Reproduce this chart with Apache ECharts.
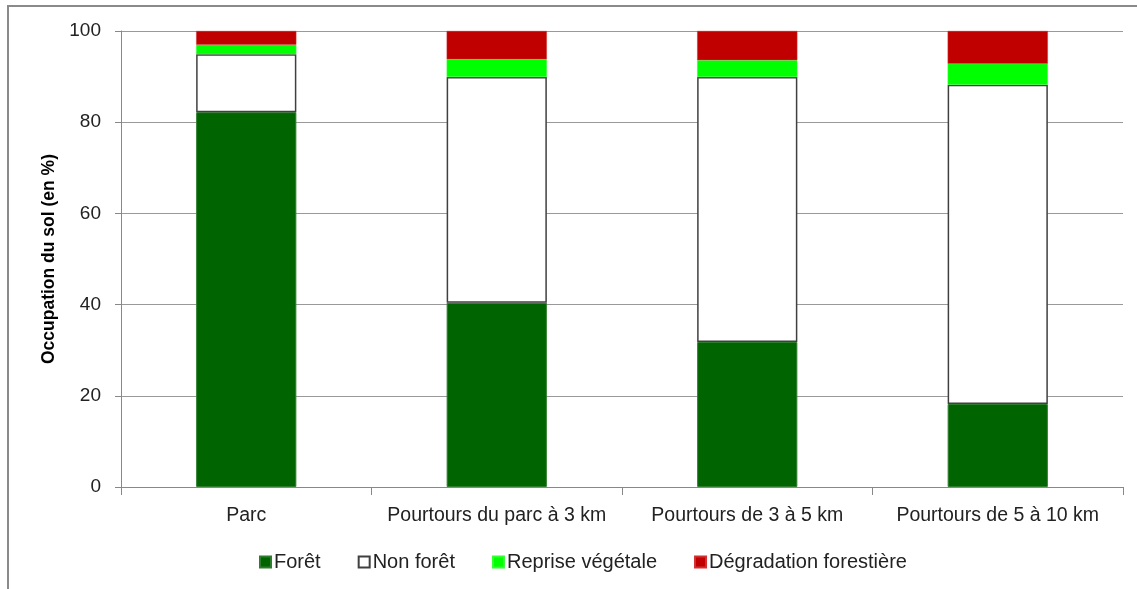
<!DOCTYPE html>
<html><head><meta charset="utf-8">
<script src="https://cdn.jsdelivr.net/npm/echarts@6/dist/echarts.min.js"></script>
<style>html,body{margin:0;padding:0;background:#fff}#c{width:1137px;height:589px}</style>
</head><body><div id="c"></div>
<script>
const categories = ['Parc', 'Pourtours du parc à 3 km', 'Pourtours de 3 à 5 km', 'Pourtours de 5 à 10 km'];
const foret = [82.2, 40.4, 31.8, 18.2];
const nonForet = [12.7, 49.5, 58.1, 70.0];
const repriseVegetale = [2.1, 3.9, 3.7, 4.6];
const degradationForestiere = [3.0, 6.2, 6.4, 7.2];
const yTicks = [0, 20, 40, 60, 80, 100];

const FONT = "'Liberation Sans', sans-serif";
const chart = echarts.init(document.getElementById('c'), null, {renderer: 'canvas'});
const mk = (name, data, color, border, bw) => ({
  name, type: 'bar', stack: 'total', data, barWidth: '40%',
  itemStyle: {color, borderColor: border, borderWidth: bw},
  emphasis: {disabled: true}
});
chart.setOption({
  animation: false,
  textStyle: {fontFamily: FONT},
  graphic: [{type: 'rect', shape: {x: 8, y: 6, width: 1200, height: 700},
    style: {fill: 'none', stroke: '#8a8a8a', lineWidth: 2}, z: 100}],
  grid: {left: 121, right: 14, top: 31, bottom: 102},
  legend: {
    bottom: 12, left: 254, itemWidth: 11, itemHeight: 11, itemGap: 37,
    icon: 'rect',
    textStyle: {fontFamily: FONT, fontSize: 20, color: '#222', padding: [0, 0, 0, -2]},
    data: ['Forêt', 'Non forêt', 'Reprise végétale', 'Dégradation forestière']
  },
  xAxis: {
    type: 'category', data: categories,
    axisLine: {lineStyle: {color: '#888', width: 1}},
    axisTick: {show: true, length: 8, lineStyle: {color: '#888'}},
    axisLabel: {fontFamily: FONT, fontSize: 19.5, color: '#222', margin: 19, interval: 0}
  },
  yAxis: {
    type: 'value', min: 0, max: 100, interval: 20,
    name: 'Occupation du sol (en %)', nameLocation: 'middle', nameGap: 60,
    nameTextStyle: {fontFamily: FONT, fontSize: 17.5, fontWeight: 'bold', color: '#000'},
    axisLine: {show: true, lineStyle: {color: '#888'}},
    axisTick: {show: true, length: 6, lineStyle: {color: '#888'}},
    axisLabel: {fontFamily: FONT, fontSize: 19, color: '#222', margin: 20,
      formatter: v => yTicks.includes(v) ? String(v) : ''},
    splitLine: {lineStyle: {color: '#999', width: 1}}
  },
  series: [
    mk('Forêt', foret, '#006400', '#2e7d2e', 1),
    mk('Non forêt', nonForet, '#ffffff', '#404040', 1.5),
    mk('Reprise végétale', repriseVegetale, '#00ff00', '#33ff33', 0.5),
    mk('Dégradation forestière', degradationForestiere, '#c00000', '#d03030', 0.5)
  ]
});
</script></body></html>
